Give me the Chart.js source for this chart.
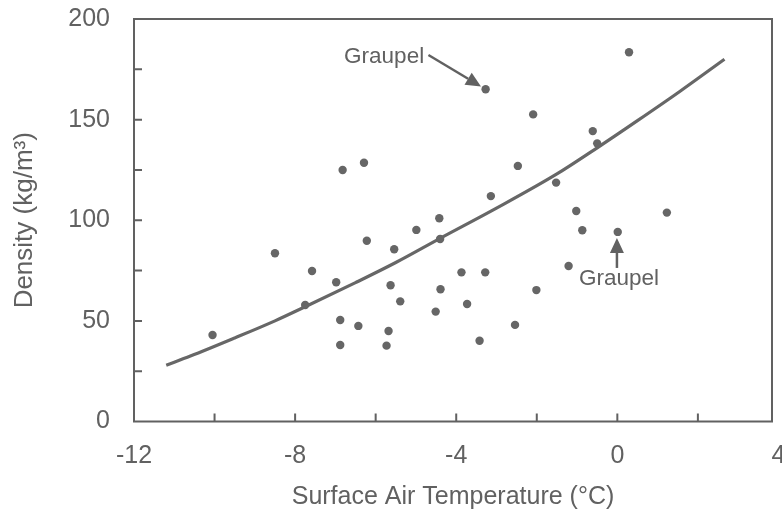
<!DOCTYPE html>
<html><head><meta charset="utf-8">
<script src="https://cdn.jsdelivr.net/npm/chart.js@4/dist/chart.umd.min.js"></script>
<style>html,body{margin:0;padding:0;background:#fff}</style></head>
<body>
<canvas id="c" width="782" height="516" style="width:782px;height:516px;display:block"></canvas>
<script>
// Observed snow samples
const tempC   = [-10.05,-8.50,-7.58,-7.75,-6.98,-6.88,-6.88,-6.82,-6.29,-6.22,-6.43,-5.54,-5.63,-5.39,-5.68,-5.73,-4.99,-4.42,-4.40,-4.39,-4.51,-3.87,-3.73,-3.42,-3.28,-3.27,-3.14,-2.54,-2.47,-2.09,-2.01,-1.52,-1.21,-1.02,-0.87,-0.61,-0.50,0.01,0.29,1.23];
const density = [43.0,83.6,74.8,57.9,69.2,50.4,38.0,125.0,128.6,89.8,47.5,85.6,67.7,59.7,45.0,37.7,95.2,101.0,90.7,65.7,54.6,74.1,58.4,40.1,74.1,165.1,112.0,48.0,127.0,152.6,65.3,118.7,77.3,104.6,95.0,144.3,138.2,94.2,183.5,103.8];
// Fitted curve
const fitTemp    = [-11.2,-10.6,-9.5,-8.5,-7.75,-6.5,-5.5,-4.4,-3.0,-1.5,-0.5,0.5,1.55,2.66];
const fitDensity = [28,32.5,41.5,50,57,69,79,91,106,123,136,149.5,164,180];
// Axis ticks
const xLabelTicks = [-12,-8,-4,0,4];
const xMarkTicks  = [-10,-8,-6,-4,-2,0,2];
const yLabelTicks = [0,50,100,150,200];
const yMarkTicks  = [25,50,75,100,125,150,175];
// Annotations (data units)
const noteText  = ['Graupel','Graupel'];
const noteX     = [-5.79, 0.04];
const noteY     = [178.1, 67.8];
const arrowFromX = [-4.69, -0.01];
const arrowFromY = [182.1, 76.3];
const arrowToX   = [-3.385, -0.01];
const arrowToY   = [166.5, 91.2];

const INK = '#616161';
const FONT = '"Liberation Sans", Arial, Helvetica, sans-serif';

const pts = tempC.map((t,i)=>({x:t,y:density[i]}));
const fit = fitTemp.map((t,i)=>({x:t,y:fitDensity[i]}));

const framePlugin = {
  id:'frame',
  afterDraw(chart){
    const {ctx, chartArea:a, scales:{x,y}} = chart;
    ctx.save();
    ctx.strokeStyle = INK; ctx.lineWidth = 2;
    ctx.strokeRect(a.left, a.top, a.right-a.left, a.bottom-a.top);
    ctx.beginPath();
    xMarkTicks.forEach(v=>{const px=x.getPixelForValue(v); ctx.moveTo(px,a.bottom); ctx.lineTo(px,a.bottom-8);});
    yMarkTicks.forEach(v=>{const py=y.getPixelForValue(v); ctx.moveTo(a.left,py); ctx.lineTo(a.left+8,py);});
    ctx.stroke();
    // annotations
    ctx.fillStyle = INK; ctx.strokeStyle = INK;
    ctx.font = '22.5px '+FONT; ctx.textAlign='center'; ctx.textBaseline='alphabetic';
    noteText.forEach((s,i)=>{ ctx.fillText(s, x.getPixelForValue(noteX[i]), y.getPixelForValue(noteY[i])); });
    arrowFromX.forEach((fx,i)=>{
      const x0=x.getPixelForValue(fx), y0=y.getPixelForValue(arrowFromY[i]);
      const x1=x.getPixelForValue(arrowToX[i]), y1=y.getPixelForValue(arrowToY[i]);
      const ang=Math.atan2(y1-y0,x1-x0), L=15, W=7;
      const bx=x1-L*Math.cos(ang), by=y1-L*Math.sin(ang);
      ctx.lineWidth=2.5; ctx.beginPath(); ctx.moveTo(x0,y0); ctx.lineTo(bx,by); ctx.stroke();
      ctx.beginPath(); ctx.moveTo(x1,y1);
      ctx.lineTo(bx+W*Math.sin(ang), by-W*Math.cos(ang));
      ctx.lineTo(bx-W*Math.sin(ang), by+W*Math.cos(ang));
      ctx.closePath(); ctx.fill();
    });
    ctx.restore();
  }
};

function noPad(s){ s.paddingTop=0; s.paddingBottom=0; s.paddingLeft=0; s.paddingRight=0; }

new Chart(document.getElementById('c'), {
  type:'scatter',
  data:{datasets:[
    {data:pts, pointRadius:4.2, pointBackgroundColor:'#666', pointBorderWidth:0, showLine:false},
    {data:fit, showLine:true, pointRadius:0, borderColor:'#676767', borderWidth:3.2, cubicInterpolationMode:'monotone', fill:false}
  ]},
  options:{
    responsive:false, animation:false, devicePixelRatio:1,
    layout:{padding:{left:0,right:10,top:19,bottom:0}},
    plugins:{legend:{display:false}, tooltip:{enabled:false}},
    scales:{
      x:{type:'linear', min:-12, max:3.84,
        afterBuildTicks:s=>{s.ticks = xLabelTicks.map(v=>({value:v}));},
        afterFit:s=>{s.height = 94.5; noPad(s);},
        grid:{display:false, drawTicks:false, tickLength:0}, border:{display:false},
        ticks:{color:INK, font:{family:FONT,size:25}, padding:20, maxRotation:0, autoSkip:false},
        title:{display:true, text:'Surface Air Temperature (°C)', color:INK, font:{family:FONT,size:25}, padding:{top:4,bottom:4}}
      },
      y:{type:'linear', min:0, max:200,
        afterBuildTicks:s=>{s.ticks = yLabelTicks.map(v=>({value:v}));},
        afterFit:s=>{s.width = 134; noPad(s);},
        grid:{display:false, drawTicks:false, tickLength:0}, border:{display:false},
        ticks:{color:INK, font:{family:FONT,size:25}, padding:24},
        title:{display:true, text:'Density (kg/m³)', color:INK, font:{family:FONT,size:26}, padding:{top:9,bottom:9}}
      }
    }
  },
  plugins:[framePlugin]
});
</script>
</body></html>
